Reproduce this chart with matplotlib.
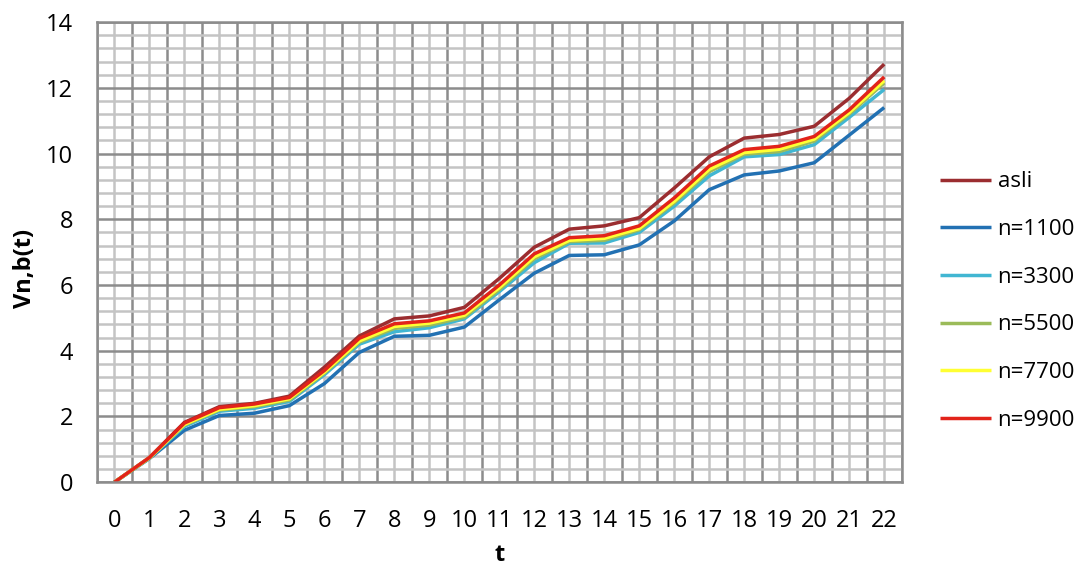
import numpy as np
import matplotlib.pyplot as plt
from matplotlib.ticker import MultipleLocator

plt.rcParams['font.family'] = ['Open Sans', 'DejaVu Sans']

# values
t = list(range(23))
asli = [0, 0.75, 1.82, 2.30, 2.40, 2.62, 3.50, 4.45, 4.97, 5.06, 5.32, 6.20, 7.15, 7.70, 7.80, 8.05,
        8.95, 9.90, 10.47, 10.58, 10.83, 11.68, 12.72]
n1100 = [0, 0.72, 1.58, 2.03, 2.10, 2.33, 3.00, 3.95, 4.44, 4.47, 4.72, 5.55, 6.36, 6.90, 6.92, 7.22,
         7.95, 8.90, 9.35, 9.47, 9.72, 10.56, 11.40]
n3300 = [0, 0.73, 1.70, 2.16, 2.25, 2.46, 3.27, 4.20, 4.58, 4.70, 4.97, 5.80, 6.68, 7.27, 7.28, 7.60,
         8.40, 9.32, 9.90, 9.97, 10.27, 11.10, 11.95]
n5500 = [0, 0.74, 1.74, 2.20, 2.30, 2.50, 3.32, 4.26, 4.68, 4.78, 5.02, 5.86, 6.80, 7.32, 7.36, 7.68,
         8.50, 9.45, 9.98, 10.06, 10.38, 11.20, 12.15]
n7700 = [0, 0.74, 1.76, 2.22, 2.33, 2.54, 3.35, 4.30, 4.74, 4.84, 5.08, 5.92, 6.86, 7.36, 7.42, 7.72,
         8.55, 9.52, 10.03, 10.13, 10.44, 11.25, 12.22]
n9900 = [0, 0.75, 1.80, 2.27, 2.38, 2.58, 3.40, 4.38, 4.82, 4.91, 5.15, 6.00, 6.95, 7.44, 7.50, 7.80,
         8.65, 9.62, 10.12, 10.22, 10.52, 11.33, 12.33]

series = [asli, n1100, n3300, n5500, n7700, n9900]
labels = ['asli', 'n=1100', 'n=3300', 'n=5500', 'n=7700', 'n=9900']
colors = ['#9b2d30', '#2271b3', '#41b6d2', '#9bbb59', '#ffff33', '#e2231a']

fig = plt.figure(figsize=(10.89, 5.66), dpi=100)
ax = fig.add_axes([0.089, 0.148, 0.739, 0.813])

for s, lab, c in zip(series, labels, colors):
    ax.plot(t, s, color=c, lw=2.5, label=lab, solid_capstyle='butt')

ax.set_xlim(-0.5, 22.5)
ax.set_ylim(0, 14)
ax.set_xticks(t)
ax.xaxis.set_minor_locator(MultipleLocator(1, offset=0.5))
ax.yaxis.set_major_locator(MultipleLocator(2))
ax.yaxis.set_minor_locator(MultipleLocator(0.4))

ax.set_axisbelow(True)
dark = '#8c8c8c'
light = '#c4c4c4'
ax.grid(which='major', axis='x', color=light, lw=1.8)
ax.grid(which='minor', axis='x', color=dark, lw=1.8)
ax.grid(which='minor', axis='y', color=light, lw=1.8)
ax.grid(which='major', axis='y', color=dark, lw=1.8)
for sp in ax.spines.values():
    sp.set_color(dark)
    sp.set_linewidth(1.8)

ax.tick_params(which='both', length=0)
ax.tick_params(axis='x', labelsize=17, pad=19)
ax.tick_params(axis='y', labelsize=17, pad=17)

ax.set_xlabel('t', fontsize=17, fontweight='bold')
ax.xaxis.set_label_coords(0.5, -0.132)
ax.set_ylabel('Vn,b(t)', fontsize=17, fontweight='bold')
ax.yaxis.set_label_coords(-0.075, 0.465)

ax.legend(loc='center left', bbox_to_anchor=(0.863, 0.468), bbox_transform=fig.transFigure,
          frameon=False, fontsize=16, handlelength=2.3, handletextpad=0.3, labelspacing=1.2,
          borderpad=0, borderaxespad=0)

fig.savefig('out.png', dpi=100)
